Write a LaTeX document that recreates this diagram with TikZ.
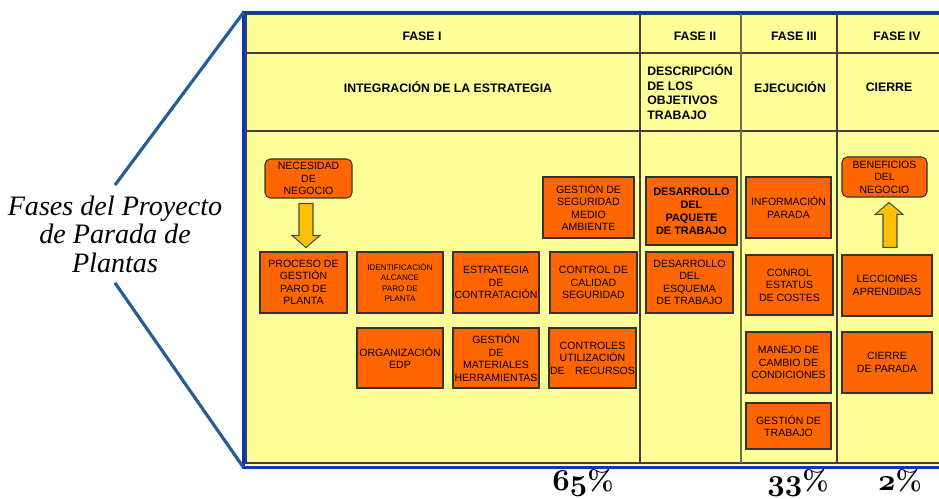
\documentclass[tikz,border=0pt]{standalone}
\usepackage{fontspec}
\newfontfamily\cajafont{Liberation Sans}
\newfontfamily\titulofont{Liberation Serif}
\usetikzlibrary{calc}
\definecolor{amarillo}{HTML}{FFFF99}
\definecolor{naranja}{HTML}{FF6600}
\definecolor{oro}{HTML}{FFC000}
\definecolor{azul}{HTML}{0A33C8}
\definecolor{acero}{HTML}{245E9A}
\definecolor{oliva}{HTML}{707040}
\newcommand{\viejo}[1]{{\usefont{OML}{cmm}{b}{it}#1}}
\tikzset{
    rejilla/.style={draw=black!75, line width=0.6pt},
    marco/.style={draw=azul, line width=1.8pt},
    linea/.style={draw=acero, line width=1.8pt},
    fase/.style={font=\cajafont\bfseries\fontsize{7}{8.3}\selectfont, inner sep=0pt},
    caja/.style={draw=black!80, fill=naranja, font=\cajafont\fontsize{6}{7.1}\selectfont,
        align=center, inner sep=0pt, line width=0.6pt},
    tam/.style 2 args={minimum width=#1*0.02cm, minimum height=#2*0.02cm},
    flecha/.style={draw=black!70, fill=oro, line width=0.6pt},
    pct/.style={font=\bfseries\fontsize{16}{16}\selectfont, anchor=base, inner sep=0pt}
}
\begin{document}
\begin{tikzpicture}[x=0.02cm, y=-0.02cm]
    \useasboundingbox (0,0) rectangle (939,499);
    \fill[amarillo] (245,13) rectangle (939,465);
    \draw[rejilla] (939,14) -- (246,14) -- (246,463) -- (939,463);
    \draw[rejilla] (246,53) -- (939,53);
    \draw[rejilla] (246,131) -- (939,131);
    \foreach \x in {640, 837}
        \draw[rejilla] (\x,14) -- (\x,463);
    \draw[rejilla, draw=oliva] (741,14) -- (741,463);
    \draw[marco] (939,12.5) -- (243.5,12.5) -- (243.5,467.5) -- (939,467.5);

    \node[fase] (f1) at (422,36) {FASE I};
    \node[fase] (f2) at (695,36) {FASE II};
    \node[fase] (f3) at (794,36) {FASE III};
    \node[fase] (f4) at (897,36) {FASE IV};
    \node[fase] (t1) at (448,87) {INTEGRACIÓN DE LA ESTRATEGIA};
    \node[fase, anchor=west, align=left] (t2) at (647,92) {DESCRIPCIÓN\\DE LOS\\OBJETIVOS\\TRABAJO};
    \node[fase] (t3) at (790,87) {EJECUCIÓN};
    \node[fase] (t4) at (889,87) {CIERRE};

    \node[caja, tam={87}{39}, rounded corners=3pt] (nec) at (308.5,178.5) {NECESIDAD\\DE\\NEGOCIO};
    \node[caja, tam={87}{61}] (proc) at (303.5,282.5) {PROCESO DE\\GESTIÓN\\PARO DE\\PLANTA};
    \node[caja, tam={86}{61}, font=\cajafont\fontsize{4.6}{5.7}\selectfont] (ident) at (400,282.5) {IDENTIFICACIÓN\\ALCANCE\\PARO DE\\PLANTA};
    \node[caja, tam={86}{61}] (estr) at (496,282.5) {ESTRATEGIA\\DE\\CONTRATACIÓN};
    \node[caja, tam={87}{61}] (ctrlcal) at (593.5,282.5) {CONTROL DE\\CALIDAD\\SEGURIDAD};
    \node[caja, tam={91}{61}] (segur) at (588.5,207.5) {GESTIÓN DE\\SEGURIDAD\\MEDIO\\AMBIENTE};
    \node[caja, tam={86}{60}] (org) at (400,358) {ORGANIZACIÓN\\EDP};
    \node[caja, tam={86}{60}] (mat) at (496,358) {GESTIÓN\\DE\\MATERIALES\\HERRAMIENTAS};
    \node[caja, tam={87}{60}] (ctrlrec) at (592.5,358) {CONTROLES\\UTILIZACIÓN\\DE\quad RECURSOS};

    \node[caja, tam={91}{68}, font=\cajafont\bfseries\fontsize{6.2}{7.4}\selectfont] (paq) at (691.5,211) {DESARROLLO\\DEL\\PAQUETE\\DE TRABAJO};
    \node[caja, tam={87}{61}] (esq) at (689.5,282.5) {DESARROLLO\\DEL\\ESQUEMA\\DE TRABAJO};

    \node[caja, tam={85}{61}] (info) at (788.5,207.5) {INFORMACIÓN\\PARADA};
    \node[caja, tam={87}{60}] (cost) at (789.5,285) {CONROL\\ESTATUS\\DE COSTES};
    \node[caja, tam={85}{61}] (manejo) at (788.5,362.5) {MANEJO DE\\CAMBIO DE\\CONDICIONES};
    \node[caja, tam={85}{46}] (gesttr) at (788.5,426) {GESTIÓN DE\\TRABAJO};

    \node[caja, tam={85}{40}, rounded corners=3pt] (benef) at (884.5,177) {BENEFICIOS\\DEL\\NEGOCIO};
    \node[caja, tam={90}{61}] (lecc) at (887,285.5) {LECCIONES\\APRENDIDAS};
    \node[caja, tam={90}{61}] (cierre) at (887,362.5) {CIERRE\\DE PARADA};

    \draw[flecha] ($(nec.south)+(-9.5,5)$) -- ++(14,0) -- ++(0,32) -- ++(7,0)
        -- ++(-14,12) -- ++(-14,-12) -- ++(7,0) -- cycle;
    \draw[flecha] ($(lecc.north)+(-4,-7)$) -- ++(14,0) -- ++(0,-33) -- ++(6,0)
        -- ++(-14,-12) -- ++(-14,12) -- ++(8,0) -- cycle;

    \node[font=\titulofont\itshape\fontsize{16}{16.2}\selectfont, align=center, inner sep=0pt, outer sep=6pt] (titulo) at (115,234)
        {Fases del Proyecto\\de Parada de\\Plantas};
    \coordinate (esqA) at (243.5,12.5);
    \coordinate (esqB) at (243.5,467.5);
    \draw[linea] (titulo.north) -- (esqA);
    \draw[linea] (titulo.south) -- (esqB);

    \node[pct] (p1) at (583,490) {\viejo{65}\%};
    \node[pct] (p2) at (798,490) {\viejo{33}\%};
    \node[pct] (p3) at (900,490) {\viejo{2}\%};
\end{tikzpicture}
\end{document}
